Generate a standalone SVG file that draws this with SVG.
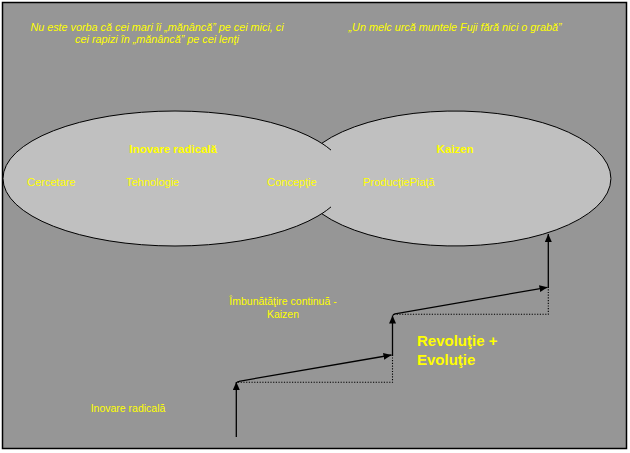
<svg xmlns="http://www.w3.org/2000/svg" width="630" height="453" viewBox="0 0 630 453">
<style>
text{font-family:"Liberation Sans",Arial,sans-serif;fill:#FFFF00}
.q{font-size:10.8px;font-style:italic}
.t{font-size:10.5px}
.e{font-size:11px}
.b{font-size:11.5px;font-weight:bold}
.big{font-size:15px;font-weight:bold}
.ln{stroke:#000;stroke-width:1.3;fill:none}
.dot{stroke:#000;stroke-width:1.1;fill:none;stroke-dasharray:1.2 1.5}
.ol{stroke:#000;stroke-width:1;fill:none}
</style>
<defs>
<marker id="ah" markerUnits="userSpaceOnUse" markerWidth="9" markerHeight="8" refX="8" refY="3.5" orient="auto">
<path d="M0,0 L8,3.5 L0,7 z" fill="#000"/>
</marker>
</defs>
<rect x="0" y="0" width="630" height="453" fill="#fff"/>
<rect id="frame" x="2.5" y="2.5" width="624" height="446" fill="#969696" stroke="#000" stroke-width="1.5"/>

<g id="quote-left">
<text class="q" x="157" y="31" text-anchor="middle">Nu este vorba că cei mari îi „mănâncă” pe cei mici, ci</text>
<text class="q" x="157" y="43" text-anchor="middle">cei rapizi în „mănâncă” pe cei lenţi</text>
</g>
<g id="quote-right">
<text class="q" x="455" y="31" text-anchor="middle">„Un melc urcă muntele Fuji fără nici o grabă”</text>
</g>

<g id="ellipse-inovare">
<ellipse cx="175" cy="178.5" rx="172" ry="67.5" fill="#C0C0C0" stroke="#000" stroke-width="1"/>
</g>
<g id="ellipse-kaizen">
<ellipse cx="455" cy="178.5" rx="156" ry="67.5" fill="#C0C0C0"/>
<path class="ol" d="M321.8 143.3 A156 67.5 0 1 1 321.8 213.7"/>
<path class="ol" d="M321.8 143.3 A172 67.5 0 0 1 331 150.1"/>
<path class="ol" d="M331 206.9 A172 67.5 0 0 1 321.8 213.7"/>
</g>

<g id="labels-inovare">
<text class="b" x="173" y="153" text-anchor="middle">Inovare radicală</text>
<text class="e" x="27" y="186">Cercetare</text>
<text class="e" x="126" y="186">Tehnologie</text>
<text class="e" x="267" y="186">Concepţie</text>
</g>
<g id="labels-kaizen">
<text class="b" x="455" y="153" text-anchor="middle">Kaizen</text>
<text class="e" x="363" y="186">ProducţiePiaţă</text>
</g>

<g id="label-imbunatatire">
<text class="t" x="283" y="305" text-anchor="middle">Îmbunătăţire continuă -</text>
<text class="t" x="283" y="318" text-anchor="middle">Kaizen</text>
</g>
<g id="label-revolutie">
<text class="big" x="417" y="346">Revoluţie +</text>
<text class="big" x="417" y="365">Evoluţie</text>
</g>
<g id="label-inovare-jos">
<text class="t" x="128" y="412" text-anchor="middle">Inovare radicală</text>
</g>

<g id="connectors">
<path class="dot" d="M238 382.3 H392.5 V357"/>
<path class="dot" d="M394 314.3 H548.3 V289"/>
<line class="ln" x1="236.3" y1="437" x2="236.3" y2="382" marker-end="url(#ah)"/>
<path class="ln" d="M236.8 383 Q237 381.5 239 381.3 L391.5 355" marker-end="url(#ah)"/>
<line class="ln" x1="392.5" y1="356" x2="392.5" y2="315.5" marker-end="url(#ah)"/>
<path class="ln" d="M393 315.5 Q393.3 314 395 313.8 L547.5 287.3" marker-end="url(#ah)"/>
<line class="ln" x1="548.3" y1="288" x2="548.3" y2="234" marker-end="url(#ah)"/>
</g>
</svg>
